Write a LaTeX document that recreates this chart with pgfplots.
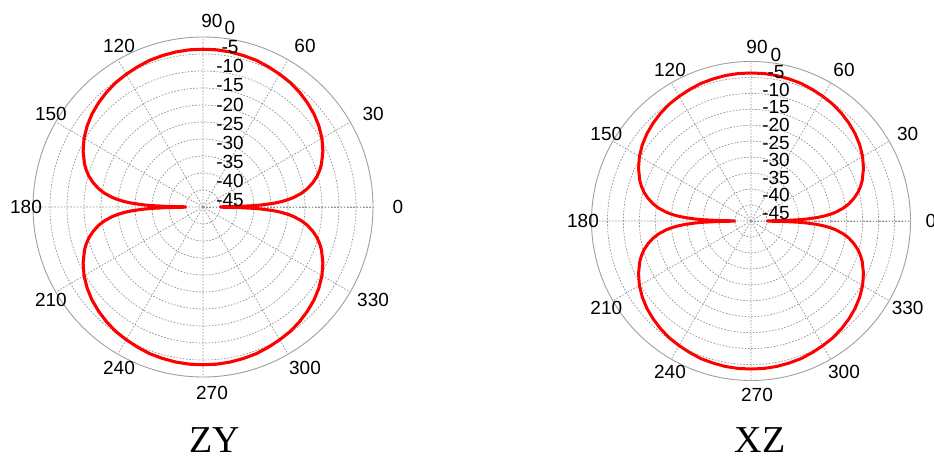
\documentclass[border=0pt]{standalone}
\usepackage{pgfplots}
\pgfplotsset{compat=1.18}
\usepackage{pgfplotstable}
\usepgfplotslibrary{polar}
\usepackage{fontspec}
\setmainfont{Liberation Sans}
\newfontfamily\seriffont{Liberation Serif}

\pgfplotstableread{
a v
0 -44.8
0.5 -44.8
1 -38.8
1.5 -35.2
2 -32.7
3 -29.2
4 -26.7
5 -24.8
6 -23.2
8 -20.7
10 -18.8
12.5 -16.9
15 -15.3
17.5 -14.0
20 -12.9
25 -11.1
30 -9.6
35 -8.4
40 -7.4
45 -6.6
50 -5.9
55 -5.3
60 -4.9
65 -4.5
70 -4.1
75 -3.9
80 -3.7
85 -3.6
90 -3.6
95 -3.6
100 -3.7
105 -3.9
110 -4.1
115 -4.5
120 -4.9
125 -5.3
130 -5.9
135 -6.6
140 -7.4
145 -8.4
150 -9.6
155 -11.1
160 -12.9
162.5 -14.0
165 -15.3
167.5 -16.9
170 -18.8
172 -20.7
174 -23.2
175 -24.8
176 -26.7
177 -29.2
178 -32.7
178.5 -35.2
179 -38.8
179.5 -44.8
180 -44.8
180.5 -44.8
181 -38.8
181.5 -35.2
182 -32.7
183 -29.2
184 -26.7
185 -24.8
186 -23.2
188 -20.7
190 -18.8
192.5 -16.9
195 -15.3
197.5 -14.0
200 -12.9
205 -11.1
210 -9.6
215 -8.4
220 -7.4
225 -6.6
230 -5.9
235 -5.3
240 -4.9
245 -4.5
250 -4.1
255 -3.9
260 -3.7
265 -3.6
270 -3.6
275 -3.6
280 -3.7
285 -3.9
290 -4.1
295 -4.5
300 -4.9
305 -5.3
310 -5.9
315 -6.6
320 -7.4
325 -8.4
330 -9.6
335 -11.1
340 -12.9
342.5 -14.0
345 -15.3
347.5 -16.9
350 -18.8
352 -20.7
354 -23.2
355 -24.8
356 -26.7
357 -29.2
358 -32.7
358.5 -35.2
359 -38.8
359.5 -44.8
360 -44.8
}\dataZY

\pgfplotstableread{
a v
0 -44.8
0.5 -44.8
1 -38.8
1.5 -35.2
2 -32.7
3 -29.2
4 -26.7
5 -24.8
6 -23.2
8 -20.7
10 -18.8
12.5 -16.9
15 -15.3
17.5 -14.0
20 -12.9
25 -11.1
30 -9.6
35 -8.4
40 -7.4
45 -6.6
50 -5.9
55 -5.3
60 -4.9
65 -4.5
70 -4.1
75 -3.9
80 -3.7
85 -3.6
90 -3.6
95 -3.6
100 -3.7
105 -3.9
110 -4.1
115 -4.5
120 -4.9
125 -5.3
130 -5.9
135 -6.6
140 -7.4
145 -8.4
150 -9.6
155 -11.1
160 -12.9
162.5 -14.0
165 -15.3
167.5 -16.9
170 -18.8
172 -20.7
174 -23.2
175 -24.8
176 -26.7
177 -29.2
178 -32.7
178.5 -35.2
179 -38.8
179.5 -44.8
180 -44.8
180.5 -44.8
181 -38.8
181.5 -35.2
182 -32.7
183 -29.2
184 -26.7
185 -24.8
186 -23.2
188 -20.7
190 -18.8
192.5 -16.9
195 -15.3
197.5 -14.0
200 -12.9
205 -11.1
210 -9.6
215 -8.4
220 -7.4
225 -6.6
230 -5.9
235 -5.3
240 -4.9
245 -4.5
250 -4.1
255 -3.9
260 -3.7
265 -3.6
270 -3.6
275 -3.6
280 -3.7
285 -3.9
290 -4.1
295 -4.5
300 -4.9
305 -5.3
310 -5.9
315 -6.6
320 -7.4
325 -8.4
330 -9.6
335 -11.1
340 -12.9
342.5 -14.0
345 -15.3
347.5 -16.9
350 -18.8
352 -20.7
354 -23.2
355 -24.8
356 -26.7
357 -29.2
358 -32.7
358.5 -35.2
359 -38.8
359.5 -44.8
360 -44.8
}\dataXZ

\pgfplotsset{
  mypolar/.style={
    scale only axis,
    xmin=0, xmax=360, ymin=0, ymax=50,
    xtick={0,30,...,330}, ytick={5,10,...,45},
    xticklabels={}, yticklabels={},
    tick label style={opacity=0},
    major tick length=0pt,
    grid=major,
    major grid style={dash pattern=on 1.6pt off 1.6pt, gray!85, line width=0.7pt},
    x axis line style={gray!75, line width=0.9pt},
    y axis line style={dash pattern=on 1.6pt off 1.6pt, gray!85, line width=0.7pt},
    clip=false,
  }
}

\begin{document}
\begin{tikzpicture}
\useasboundingbox (0pt,0pt) rectangle (934pt,455pt);
% ZY
\begin{polaraxis}[mypolar, at={(203pt,248pt)}, anchor=center, width=340pt, height=340pt]
\addplot[red, line width=3.1pt, line join=round] table[x=a, y expr=\thisrow{v}+50] {\dataZY};
\end{polaraxis}
% XZ
\begin{polaraxis}[mypolar, at={(751pt,234pt)}, anchor=center, width=319pt, height=319pt]
\addplot[red, line width=3pt, line join=round] table[x=a, y expr=\thisrow{v}+50] {\dataXZ};
\end{polaraxis}
% angle labels
\foreach \t in {0,30,...,330}{
  \node[font=\fontsize{19}{19}\selectfont, inner sep=0pt] at ({203pt+9pt+186pt*cos(\t)},{248pt+186pt*sin(\t)}) {\t};
  \node[font=\fontsize{19}{19}\selectfont, inner sep=0pt] at ({751pt+6pt+174pt*cos(\t)},{234pt+174pt*sin(\t)}) {\t};
}
% radial labels
\foreach \k/\lab in {0/-45,1/-40,2/-35,3/-30,4/-25,5/-20,6/-15,7/-10,8/-5,9/0}{
  \node[font=\fontsize{19}{19}\selectfont, inner sep=0pt] at (230pt,{248pt+7pt+19.1pt*\k}) {\lab};
  \node[font=\fontsize{19}{19}\selectfont, inner sep=0pt] at (776pt,{234pt+8pt+17.6pt*\k}) {\lab};
}
% titles
\node[font=\seriffont\fontsize{38}{38}\selectfont, anchor=base, inner sep=0pt] at (215pt,2pt) {ZY};
\node[font=\seriffont\fontsize{38}{38}\selectfont, anchor=base, inner sep=0pt] at (760pt,2pt) {XZ};
\end{tikzpicture}
\end{document}
